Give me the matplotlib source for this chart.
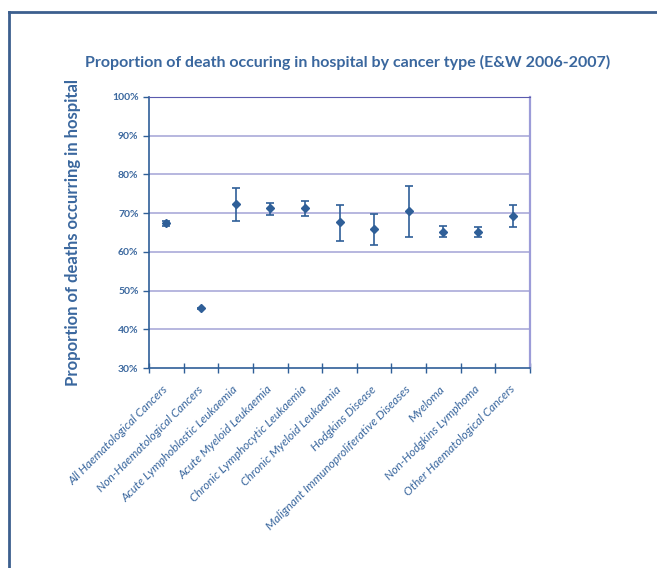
import matplotlib.pyplot as plt
import matplotlib.lines as mlines
import matplotlib.transforms as mtransforms
from matplotlib.ticker import FixedLocator, PercentFormatter

categories = ['All Haematological Cancers', 'Non-Haematological Cancers',
              'Acute Lymphoblastic Leukaemia', 'Acute Myeloid Leukaemia',
              'Chronic Lymphocytic Leukaemia', 'Chronic Myeloid Leukaemia',
              'Hodgkins Disease', 'Malignant Immunoproliferative Diseases',
              'Myeloma', 'Non-Hodgkins Lymphoma', 'Other Haematological Cancers']
values = [67.4, 45.4, 72.4, 71.2, 71.2, 67.6, 65.8, 70.6, 65.1, 65.0, 69.3]
upper = [68.0, 45.6, 76.4, 72.6, 73.1, 72.2, 69.7, 76.9, 66.8, 66.3, 72.2]
lower = [66.8, 45.2, 68.0, 69.6, 69.2, 62.9, 61.8, 63.8, 63.9, 63.9, 66.5]

blue = '#2F5F98'
text_blue = '#3A679E'
grid_col = '#A3A3D6'

plt.rcParams['font.family'] = ['Lato', 'DejaVu Sans']

fig = plt.figure(figsize=(6.57, 5.68), dpi=100)
ax = fig.add_axes([149 / 657, 1 - 368 / 568, 381 / 657, 271 / 568])

x = list(range(len(categories)))
err = [[v - l for v, l in zip(values, lower)], [u - v for u, v in zip(upper, values)]]
ax.errorbar(x, values, yerr=err, fmt='D', color=blue, ecolor=blue,
            markersize=4.5, capsize=3, elinewidth=1.2, capthick=1.2, zorder=3)

ax.set_ylim(30, 100)
ax.set_xlim(-0.5, len(categories) - 0.5)
ax.set_yticks(range(30, 101, 10))
ax.yaxis.set_major_formatter(PercentFormatter(decimals=0))
for y in range(40, 100, 10):
    ax.axhline(y, color=grid_col, lw=1.1, zorder=1)

ax.xaxis.set_major_locator(FixedLocator([i - 0.5 for i in range(len(categories) + 1)]))
ax.xaxis.set_minor_locator(FixedLocator(x))
ax.set_xticklabels([])
ax.set_xticklabels(categories, minor=True, rotation=45, ha='right', va='center',
                   rotation_mode='anchor', fontsize=8.6, style='italic',
                   color=text_blue)
shift = mtransforms.ScaledTranslation(-4 / 100, 0, fig.dpi_scale_trans)
for lab in ax.get_xticklabels(minor=True):
    lab.set_transform(lab.get_transform() + shift)
ax.tick_params(axis='x', which='major', direction='inout', length=7, color=blue, width=1)
ax.tick_params(axis='x', which='minor', length=0, pad=14)
ax.tick_params(axis='y', direction='out', length=4, color=blue, width=1,
               labelsize=7.5, labelcolor=text_blue)
for lab in ax.get_yticklabels():
    lab.set_fontweight('bold')

ax.spines['left'].set_color(blue)
ax.spines['bottom'].set_color(blue)
ax.spines['left'].set_linewidth(1.2)
ax.spines['bottom'].set_linewidth(1.2)
ax.spines['top'].set_color('#5A5AAE')
ax.spines['right'].set_color('#9C9CD8')
ax.spines['right'].set_linewidth(1.6)

ax.set_ylabel('Proportion of deaths occurring in hospital', fontsize=12,
              fontweight='bold', color=text_blue, labelpad=22)
fig.text(348 / 657, 1 - 62 / 568,
         'Proportion of death occuring in hospital by cancer type (E&W 2006-2007)',
         ha='center', va='center', fontsize=11.5, fontweight='bold', color=text_blue)

# outer frame (left and top edges visible)
fig.add_artist(mlines.Line2D([9 / 657, 9 / 657], [0, 1 - 11.5 / 568],
                             color='#3C5F8E', lw=2))
fig.add_artist(mlines.Line2D([9 / 657, 1], [1 - 11.5 / 568, 1 - 11.5 / 568],
                             color='#3C5F8E', lw=2))

fig.savefig('out.png', dpi=100)
